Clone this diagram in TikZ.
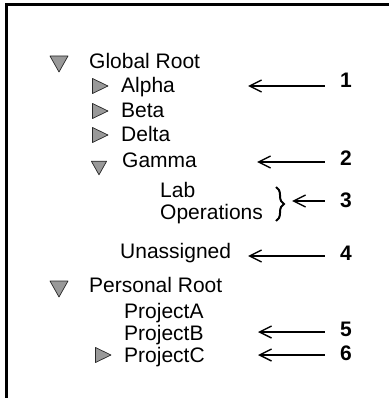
\documentclass[tikz,border=0pt]{standalone}
\usepackage{fontspec}
\setmainfont{Liberation Sans}
\usetikzlibrary{arrows.meta, decorations.pathreplacing}

\tikzset{
  entry/.style={anchor=base west, inner sep=0pt, font=\fontsize{21}{25}\selectfont},
  num/.style={anchor=base, inner ysep=0pt, inner xsep=15pt, font=\fontsize{21}{25}\selectfont\bfseries},
  callout/.style={{Straight Barb[length=12pt,width=12pt]}-, line width=1.4pt},
  toggle/.style={fill=black!40, draw=black!85, line width=0.7pt, line join=round},
  pics/opened/.style={code={\draw[toggle] (-9,-8) -- (9,-8) -- (0,8) -- cycle;}},
  pics/closed/.style={code={\draw[toggle] (-7.5,-7.5) -- (8,0) -- (-7.5,7.5) -- cycle;}},
}

\begin{document}
\begin{tikzpicture}[x=1pt, y=-1pt]
    \useasboundingbox (0,0) rectangle (389,398);
    \draw[line width=3pt] (6.5,398) -- (6.5,5) -- (389,5);

    % tree
    \node[entry] (global) at (89,69) {Global Root};
    \node[entry] (alpha) at (121,93) {Alpha};
    \node[entry] (beta) at (121,118) {Beta};
    \node[entry] (delta) at (121,142) {Delta};
    \node[entry] (gamma) at (122,167) {Gamma};
    \node[entry] (lab) at (160,197) {Lab};
    \node[entry] (ops) at (160,219) {Operations};
    \node[entry] (unassigned) at (120,258) {Unassigned};
    \node[entry] (personal) at (89,292) {Personal Root};
    \node[entry] (projA) at (124,318) {ProjectA};
    \node[entry] (projB) at (124,340) {ProjectB};
    \node[entry] (projC) at (124,362) {ProjectC};

    \pic at (59,64) {opened};
    \pic at (100,86) {closed};
    \pic at (100,111) {closed};
    \pic at (100,135) {closed};
    \pic[scale=0.85] at (99,168) {opened};
    \pic at (59,289) {opened};
    \pic at (103,355) {closed};

    \draw[decorate, decoration={brace, amplitude=8pt}, line width=2pt] (276,187) -- (276,221);

    % callouts
    \coordinate (t1) at (248,86);
    \coordinate (t2) at (257,162);
    \coordinate (t3) at (292,201);
    \coordinate (t4) at (248,256);
    \coordinate (t5) at (258,332);
    \coordinate (t6) at (258,355);

    \node[num] (n1) at (346,88) {1};
    \node[num] (n2) at (346,165) {2};
    \node[num] (n3) at (346,207) {3};
    \node[num] (n4) at (346,260) {4};
    \node[num] (n5) at (346,336) {5};
    \node[num] (n6) at (346,360) {6};

    \draw[callout] (t1) -- (t1 -| n1.west);
    \draw[callout] (t2) -- (t2 -| n2.west);
    \draw[callout] (t3) -- (t3 -| n3.west);
    \draw[callout] (t4) -- (t4 -| n4.west);
    \draw[callout] (t5) -- (t5 -| n5.west);
    \draw[callout] (t6) -- (t6 -| n6.west);
\end{tikzpicture}
\end{document}
